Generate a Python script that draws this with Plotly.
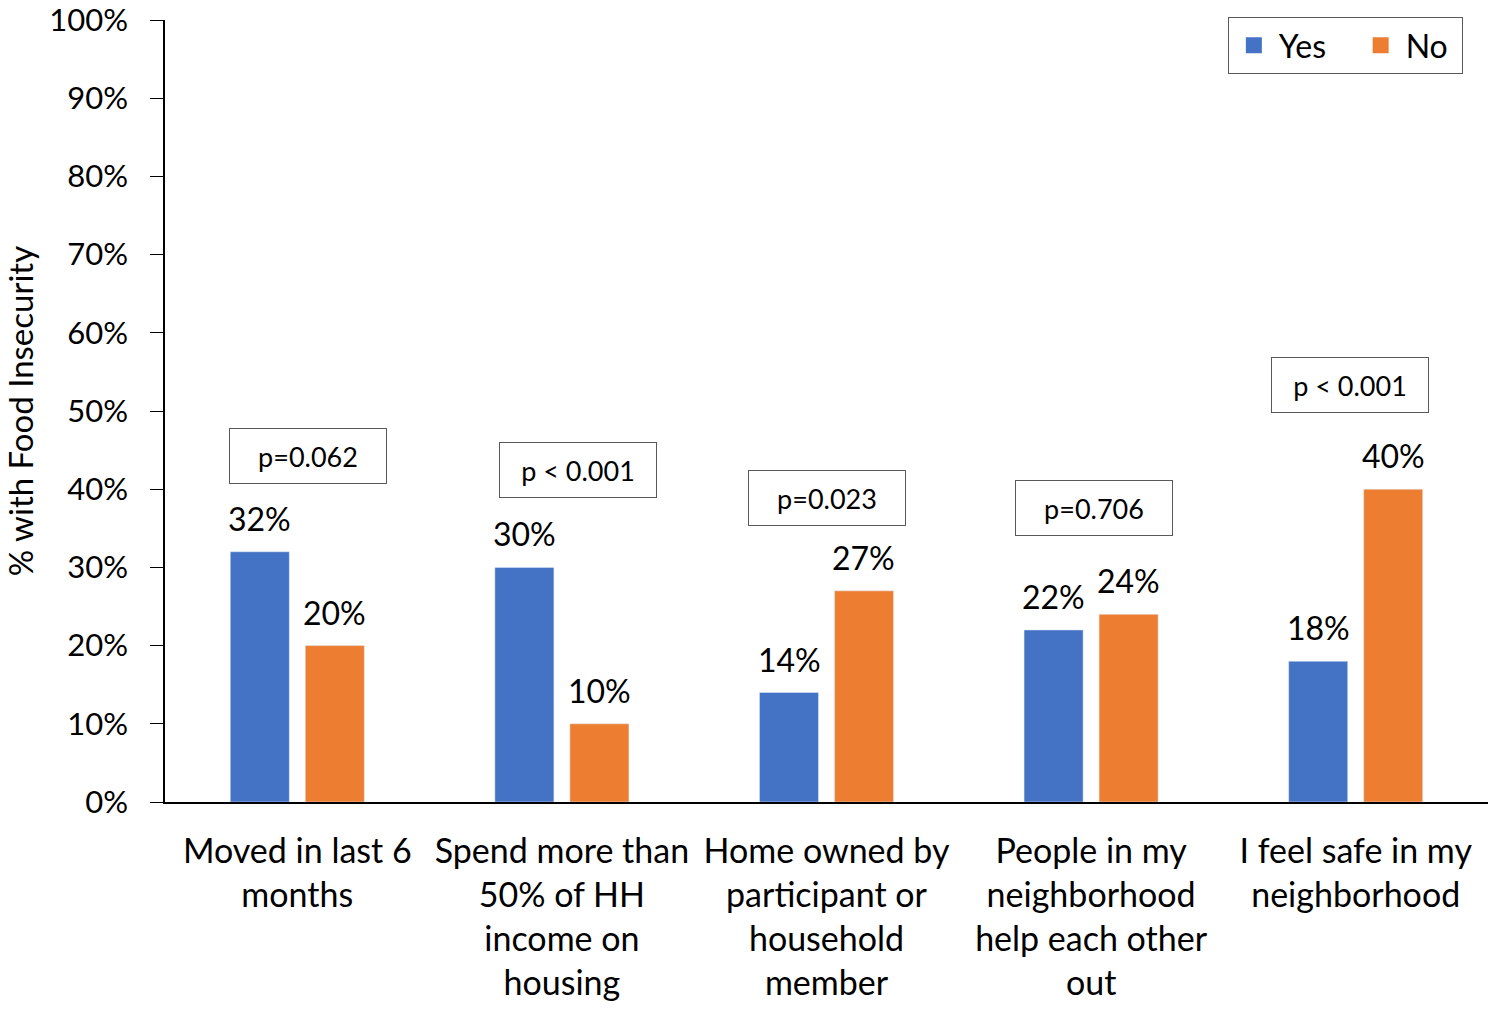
import plotly.graph_objects as go

categories = [
    "Moved in last 6<br>months",
    "Spend more than<br>50% of HH<br>income on<br>housing",
    "Home owned by<br>participant or<br>household<br>member",
    "People in my<br>neighborhood<br>help each other<br>out",
    "I feel safe in my<br>neighborhood",
]
yes_vals = [0.32, 0.30, 0.14, 0.22, 0.18]
no_vals = [0.20, 0.10, 0.27, 0.24, 0.40]
p_labels = ["p=0.062", "p < 0.001", "p=0.023", "p=0.706", "p < 0.001"]
p_heights = [0.442, 0.425, 0.389, 0.376, 0.533]
p_offsets = [0.04, 0.06, 0.0, 0.01, -0.02]

FONT = "Lato, Open Sans, sans-serif"
BLUE = "#4472C4"
ORANGE = "#ED7D31"
x_idx = list(range(len(categories)))
BAR_SHIFT = 0.1417  # half distance between the centres of the two bars in a group

fig = go.Figure()
fig.add_trace(go.Bar(
    name="Yes", x=x_idx, y=yes_vals, marker_color=BLUE, showlegend=False,
))
fig.add_trace(go.Bar(
    name="No", x=x_idx, y=no_vals, marker_color=ORANGE, showlegend=False,
))
for name, col in [("Yes\u00a0\u00a0\u00a0", BLUE), ("No\u00a0", ORANGE)]:
    fig.add_trace(go.Scatter(
        x=[None], y=[None], mode="markers", name=name,
        marker=dict(symbol="square", size=23, color=col),
    ))

for vals, sign in [(yes_vals, -1), (no_vals, 1)]:
    for i, v in enumerate(vals):
        fig.add_annotation(
            x=i + sign * BAR_SHIFT, y=v, xref="x", yref="y",
            text=f"{v:.0%}", showarrow=False, yanchor="bottom", yshift=12,
            font=dict(size=32, color="black", family=FONT),
        )

for i, (lbl, h, off) in enumerate(zip(p_labels, p_heights, p_offsets)):
    fig.add_annotation(
        x=i + off, y=h, xref="x", yref="y", text=lbl, showarrow=False,
        font=dict(size=27, color="black", family=FONT),
        bordercolor="#595959", borderwidth=1, borderpad=10,
        width=136, height=34, align="center", bgcolor="white",
    )

fig.update_layout(
    width=1488, height=1010,
    margin=dict(l=165, r=0, t=20, b=208),
    paper_bgcolor="white", plot_bgcolor="white",
    barmode="group", bargap=0.433, bargroupgap=0.213,
    font=dict(family=FONT, color="black"),
    legend=dict(
        orientation="h", x=0.981, xanchor="right", y=1.004, yanchor="top",
        bordercolor="#595959", borderwidth=1,
        font=dict(size=32, family=FONT, color="black"),
        itemwidth=40, tracegroupgap=0,
    ),
    yaxis=dict(
        range=[0, 1], tickformat=".0%", dtick=0.1, automargin=False,
        showgrid=False, zeroline=False,
        showline=True, linecolor="black", linewidth=1.5,
        ticks="outside", ticklen=13, tickcolor="black",
        tickfont=dict(size=31, family=FONT, color="black"),
        ticklabelstandoff=16, ticklabeloverflow="allow",
        title=dict(text="% with Food Insecurity", font=dict(size=33, family=FONT, color="black"), standoff=40),
    ),
    xaxis=dict(
        tickmode="array", tickvals=x_idx, ticktext=categories, automargin=False,
        range=[-0.5, len(categories) - 0.5],
        showline=True, linecolor="black", linewidth=1.5,
        showgrid=False, zeroline=False, ticks="",
        tickfont=dict(size=34, family=FONT, color="black"),
        ticklabelstandoff=18,
    ),
)

fig.write_html(
    "out.html",
    config={"displayModeBar": False},
    post_script="document.body.style.margin='0';",
)
